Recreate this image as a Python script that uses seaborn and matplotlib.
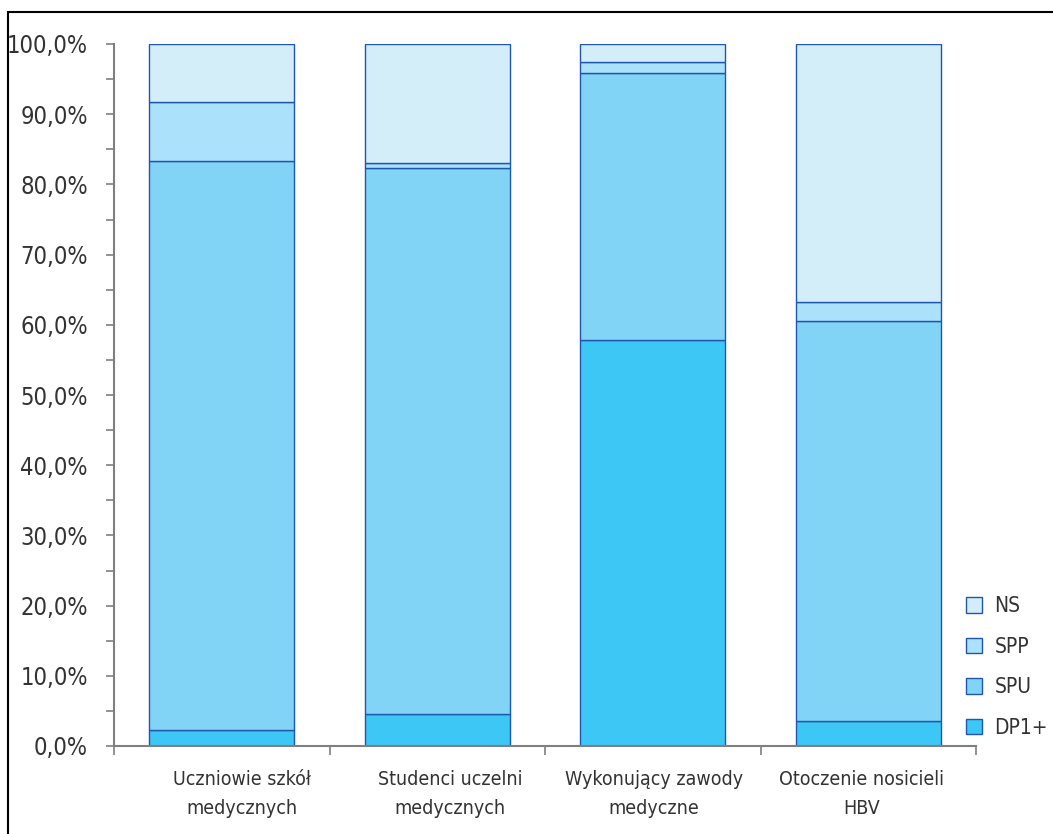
import matplotlib
matplotlib.use("Agg")
import matplotlib.pyplot as plt
import matplotlib.patches as mpatches
import matplotlib.ticker as mticker
import matplotlib.transforms as mtrans
import seaborn as sns
import pandas as pd
import numpy as np

# categories and shares (%) per series
categories = ["Uczniowie szkół\nmedycznych", "Studenci uczelni\nmedycznych",
              "Wykonujący zawody\nmedyczne", "Otoczenie nosicieli\nHBV"]
series = ["DP1+", "SPU", "SPP", "NS"]
dp1 = [2.3, 4.6, 57.8, 3.5]
spu = [81.1, 77.7, 38.0, 57.0]
spp = [8.3, 0.8, 1.7, 2.7]
ns = [8.3, 16.9, 2.5, 36.8]

colors = {"DP1+": "#3cc7f4", "SPU": "#82d4f7", "SPP": "#abe1fa", "NS": "#d3eef9"}
edge = "#1f56b0"

sns.set_theme(style="white")
plt.rcParams["font.family"] = ["DejaVu Sans"]
plt.rcParams["font.stretch"] = "condensed"
plt.rcParams["text.color"] = "#333333"

df = pd.DataFrame({"cat": categories, "DP1+": dp1, "SPU": spu, "SPP": spp, "NS": ns})

fig = plt.figure(figsize=(10.53, 8.34), dpi=100)
ax = fig.add_axes([114 / 1053, 1 - 746 / 834, (976 - 114) / 1053, (746 - 44) / 834])

bottom = np.zeros(len(categories))
for s in series:
    sns.barplot(data=df, x="cat", y=s, ax=ax, color=colors[s], bottom=bottom,
                width=0.675, edgecolor=edge, linewidth=1.0, saturation=1)
    bottom += df[s].values

ax.set_xlim(-0.5, len(categories) - 0.5)
ax.set_ylim(0, 100)
ax.set_xlabel("")
ax.set_ylabel("")

for sp in ["top", "right"]:
    ax.spines[sp].set_visible(False)
for sp in ["left", "bottom"]:
    ax.spines[sp].set_color("#7f7f7f")
    ax.spines[sp].set_linewidth(1.5)

ax.yaxis.set_major_locator(mticker.MultipleLocator(10))
ax.yaxis.set_minor_locator(mticker.MultipleLocator(5))
ax.yaxis.set_major_formatter(mticker.FuncFormatter(lambda v, p: f"{v:.1f}%".replace(".", ",")))
ax.tick_params(axis="y", which="both", left=True, length=5.8, width=1.2, color="#7f7f7f",
               labelsize=17, labelcolor="#333333", pad=13)

# category ticks sit between the bars
ax.set_xticks(np.arange(len(categories)))
ax.set_xticklabels(categories)
ax.xaxis.set_minor_locator(mticker.FixedLocator(np.arange(-0.5, len(categories), 1.0)))
ax.tick_params(axis="x", which="major", bottom=False, labelsize=14, labelcolor="#333333", pad=11)
ax.tick_params(axis="x", which="minor", bottom=True, length=6.5, width=1.2, color="#7f7f7f")
# labels are not quite centred under the bars in the original
shifts = [20, 13, 1, -7]
for t, dx in zip(ax.get_xticklabels(), shifts):
    t.set_linespacing(1.7)
    t.set_transform(t.get_transform() + mtrans.ScaledTranslation(dx / 100, 0, fig.dpi_scale_trans))

handles = [mpatches.Patch(facecolor=colors[s], edgecolor=edge, label=s) for s in series[::-1]]
fig.legend(handles=handles, loc="lower left", bbox_to_anchor=(956 / 1053, 1 - 748 / 834),
           frameon=False, fontsize=15, handlelength=0.75, handleheight=0.75,
           handletextpad=0.6, labelspacing=0.98, borderpad=0)

# frame around the figure (only top and left edges fall inside the picture)
fig.patches.append(mpatches.Rectangle((8 / 1053, -0.1), 1.2, 1 - 12 / 834 + 0.1,
                                      transform=fig.transFigure, fill=False,
                                      edgecolor="black", linewidth=1.5))

fig.savefig("out.png", dpi=100)
